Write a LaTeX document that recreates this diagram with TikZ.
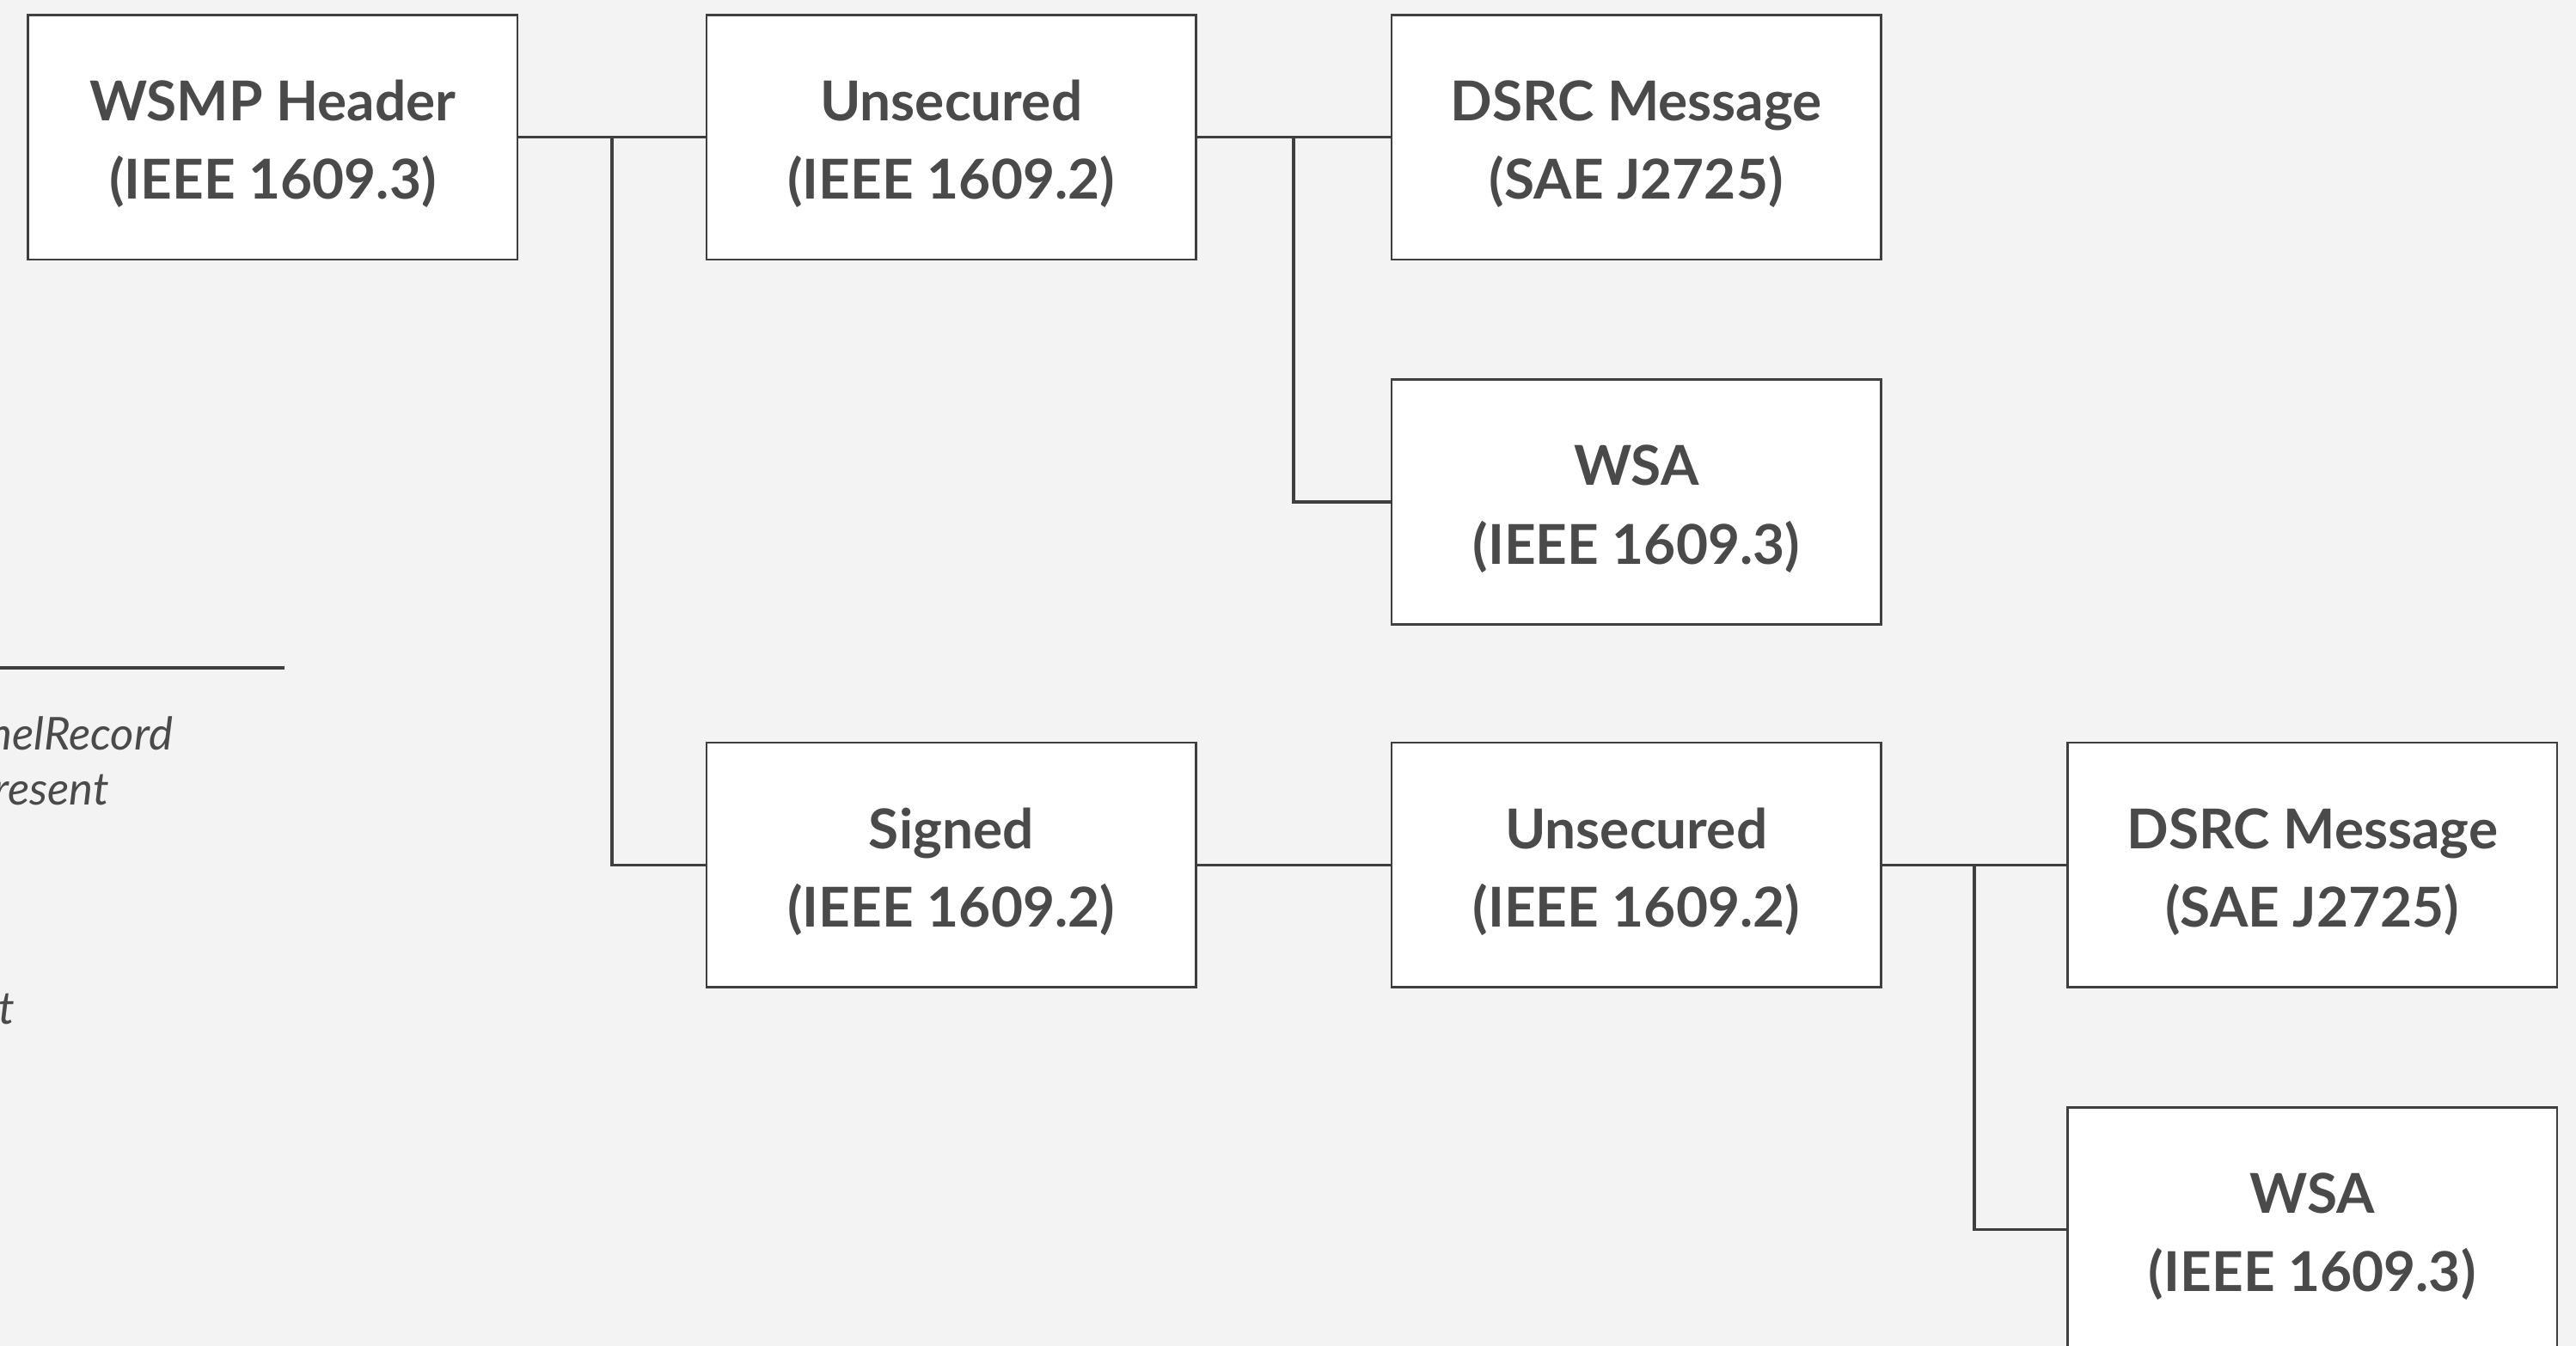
\documentclass[tikz,border=0pt]{standalone}
\usepackage{fontspec}
\setmainfont{Lato}
\usetikzlibrary{calc}
\definecolor{paper}{HTML}{F3F3F3}
\definecolor{ink}{HTML}{4A4A4A}
\definecolor{wire}{HTML}{3F3F3F}

\begin{document}
\begin{tikzpicture}[x=0.019113cm, y=-0.019113cm,
    layer/.style={draw=wire, line width=0.8pt, fill=white, minimum width=5.696cm,
        minimum height=2.848cm, inner sep=0pt, align=center, text=ink,
        font=\bfseries\fontsize{18.2}{26}\selectfont},
    note/.style={inner sep=0pt, anchor=base east, text=ink,
        font=\itshape\fontsize{15}{18}\selectfont},
    link/.style={draw=wire, line width=1pt}]
                \fill[paper] (0,0) rectangle (1568,819.3);
                \clip (0,0) rectangle (1568,819.3);
                % left margin, cut by the page edge
                \coordinate (ruleL) at (-10,406.5);
                \coordinate (ruleR) at (173,406.5);
                \draw[link] (ruleL) -- (ruleR);
                \node[note] (noteA) at (105.5,456.7) {nelRecord};
                \node[note] (noteB) at (66.8,489.7) {resent};
                \node[note] (noteC) at (9.6,623.6) {t};
                \foreach \name/\x/\y/\first/\second in {
                    hdr/166/83.5/WSMP Header/IEEE 1609.3,
                    unsA/579/83.5/Unsecured/IEEE 1609.2,
                    dsrcA/996/83.5/DSRC Message/SAE J2725,
                    wsaA/996/305.5/WSA/IEEE 1609.3,
                    sgn/579/526.5/Signed/IEEE 1609.2,
                    unsB/996/526.5/Unsecured/IEEE 1609.2,
                    dsrcB/1407.5/526.5/DSRC Message/SAE J2725,
                    wsaB/1407.5/748.5/WSA/IEEE 1609.3} {
                    \node[layer] (\name) at (\x,\y) {\rule{0pt}{18pt}\first\\(\second)};
                }
                \draw[link] (hdr.east) -- (unsA.west);
                \draw[link] ($(hdr.east)!0.5!(unsA.west)$) |- (sgn.west);
                \draw[link] (unsA.east) -- (dsrcA.west);
                \draw[link] ($(unsA.east)!0.5!(dsrcA.west)$) |- (wsaA.west);
                \draw[link] (sgn.east) -- (unsB.west);
                \draw[link] (unsB.east) -- (dsrcB.west);
                \draw[link] ($(unsB.east)!0.5!(dsrcB.west)$) |- (wsaB.west);
            \end{tikzpicture}
\end{document}
